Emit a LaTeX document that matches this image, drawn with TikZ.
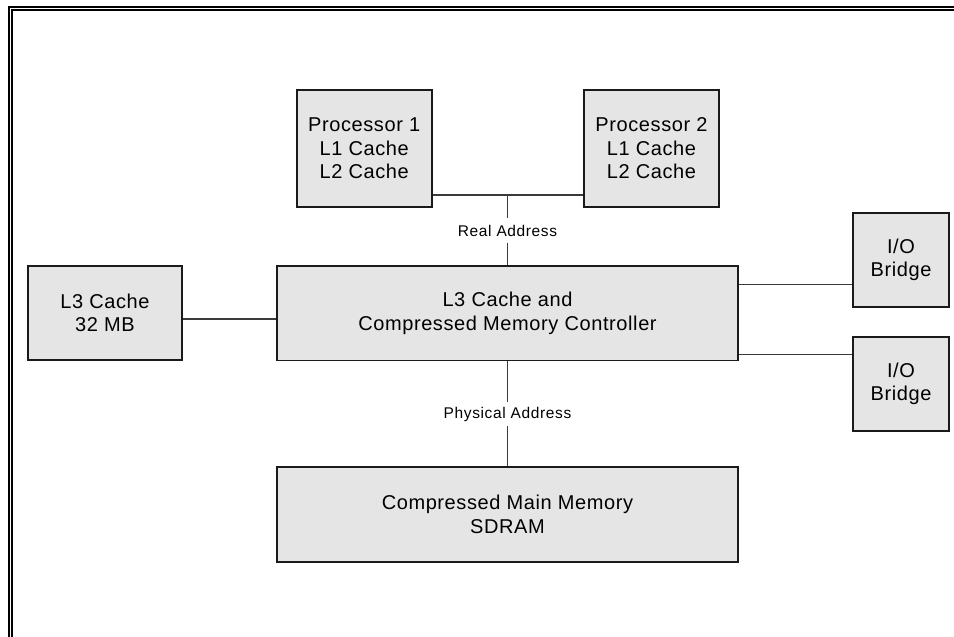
\documentclass[tikz,border=0pt]{standalone}
\usepackage{fontspec}
\setmainfont{Liberation Sans}[LetterSpace=3]
\newfontfamily\labelfont{Liberation Sans}[LetterSpace=4]
\definecolor{boxfill}{HTML}{E5E5E5}
\definecolor{boxline}{HTML}{1A1A1A}
\definecolor{wire}{HTML}{3A3A3A}
\tikzset{
  blockbox/.style={draw=boxline, line width=1.6pt, fill=boxfill, inner sep=0pt,
    align=center, font=\fontsize{20}{23.5}\selectfont},
  wirestyle/.style={draw=wire, line width=1.1pt},
  addrlabel/.style={inner sep=0pt, minimum height=24pt, minimum width=10pt,
    font=\labelfont\fontsize{15.5}{18}\selectfont},
  framestyle/.style={line width=2pt, black, line join=miter}
}
\begin{document}
\begin{tikzpicture}[x=1pt, y=-1pt]
\useasboundingbox (0,0) rectangle (954,637);
% frame
\draw[framestyle] (9,637) -- (9,7) -- (954,7);
\draw[framestyle] (12,637) -- (12,10) -- (954,10);
% blocks
\node[blockbox, minimum width=135pt, minimum height=117pt] (p1) at (364.2,148.5) {Processor 1\\L1 Cache\\L2 Cache};
\node[blockbox, minimum width=135pt, minimum height=117pt] (p2) at (651.5,148.5) {Processor 2\\L1 Cache\\L2 Cache};
\node[blockbox, minimum width=154pt, minimum height=94pt] (l3) at (105,313) {L3 Cache\\32 MB};
\node[blockbox, minimum width=461pt, minimum height=94.5pt] (ctrl) at (507.5,313.2) {L3 Cache and\\Compressed Memory Controller};
\node[blockbox, minimum width=96pt, minimum height=94pt] (io1) at (901,260) {I/O\\Bridge};
\node[blockbox, minimum width=96pt, minimum height=94pt] (io2) at (901,384) {I/O\\Bridge};
\node[blockbox, minimum width=461pt, minimum height=95pt] (mem) at (507.5,514.5) {Compressed Main Memory\\SDRAM};
% labels
\node[addrlabel] (ra) at (507.5,230.5) {Real Address};
\node[addrlabel] (pa) at (507.5,414) {Physical Address};
% connectors
\coordinate (bus) at (507.5,195);
\draw[wirestyle] (bus -| p1.east) -- (bus -| p2.west);
\draw[wirestyle] (bus) -- (ra.north);
\draw[wirestyle] (ra.south) -- (ctrl.north);
\draw[wirestyle] (ctrl.south) -- (pa.north);
\draw[wirestyle] (pa.south) -- (mem.north);
\draw[wirestyle] ([yshift=-6pt]l3.east) coordinate (l3c) -- (l3c -| ctrl.west);
\draw[wirestyle] ([yshift=29pt]ctrl.east) coordinate (c1) -- (c1 -| io1.west);
\draw[wirestyle] ([yshift=-41pt]ctrl.east) coordinate (c2) -- (c2 -| io2.west);
\end{tikzpicture}
\end{document}
